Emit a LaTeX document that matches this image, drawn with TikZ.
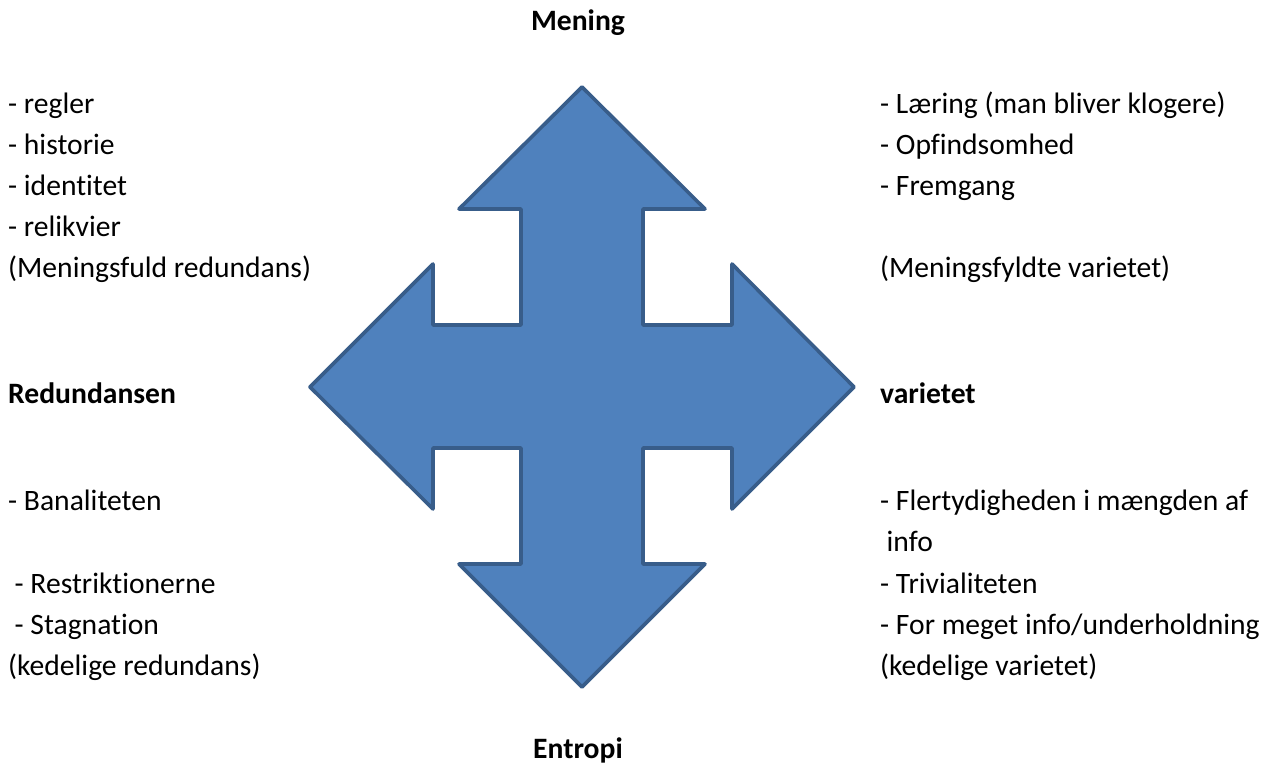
\documentclass[tikz,border=0pt]{standalone}
\usepackage{fontspec}
\setmainfont[Ligatures=NoCommon]{Carlito}
\definecolor{arrowfill}{HTML}{4F81BD}
\definecolor{arrowline}{HTML}{385D8A}
\tikzset{
  quadarrow/.style={fill=arrowfill, draw=arrowline, line width=3.6pt, line join=round},
  txt/.style={anchor=base west, inner sep=0pt, font=\fontsize{29.6}{35}\selectfont},
  pole/.style={anchor=base, inner sep=0pt, font=\fontsize{29.6}{35}\selectfont\bfseries},
}
\begin{document}
\begin{tikzpicture}[x=1pt,y=-1pt]
    \useasboundingbox (0,0) rectangle (1266,764);

    % four-way arrow
    \draw[quadarrow] (582,87) -- (705,209) -- (643,209) -- (643,325) -- (732,325) -- (732,264)
        -- (854,387) -- (732,509) -- (732,448) -- (643,448) -- (643,564) -- (705,564)
        -- (582,687) -- (459,564) -- (521,564) -- (521,448) -- (433,448) -- (433,509)
        -- (310,387) -- (433,264) -- (433,325) -- (521,325) -- (521,209) -- (459,209) -- cycle;

    % poles
    \node[pole] (mening) at (578,30) {Mening};
    \node[pole] (entropi) at (578,758) {Entropi};
    \node[pole, anchor=base west] (redundansen) at (8,403) {Redundansen};
    \node[pole, anchor=base west] (varietet) at (880,403) {varietet};

    % upper left
    \node[txt] (regler) at (8,113) {- regler};
    \node[txt] (historie) at (8,154) {- historie};
    \node[txt] (identitet) at (8,195) {- identitet};
    \node[txt] (relikvier) at (8,236) {- relikvier};
    \node[txt] (megred) at (8,277) {(Meningsfuld redundans)};

    % upper right
    \node[txt] (laering) at (880,113) {- Læring (man bliver klogere)};
    \node[txt] (opfind) at (880,154) {- Opfindsomhed};
    \node[txt] (fremgang) at (880,195) {- Fremgang};
    \node[txt] (megvar) at (880,277) {(Meningsfyldte varietet)};

    % lower left
    \node[txt] (banal) at (8,510) {- Banaliteten};
    \node[txt] (restrikt) at (14.5,593) {- Restriktionerne};
    \node[txt] (stagn) at (14.5,634) {- Stagnation};
    \node[txt] (kedred) at (8,675) {(kedelige redundans)};

    % lower right
    \node[txt] (flertyd) at (880,510) {- Flertydigheden i mængden af};
    \node[txt] (info) at (886.5,551) {info};
    \node[txt] (trivial) at (880,593) {- Trivialiteten};
    \node[txt] (formeget) at (880,634) {- For meget info/underholdning};
    \node[txt] (kedvar) at (880,675) {(kedelige varietet)};
\end{tikzpicture}
\end{document}
